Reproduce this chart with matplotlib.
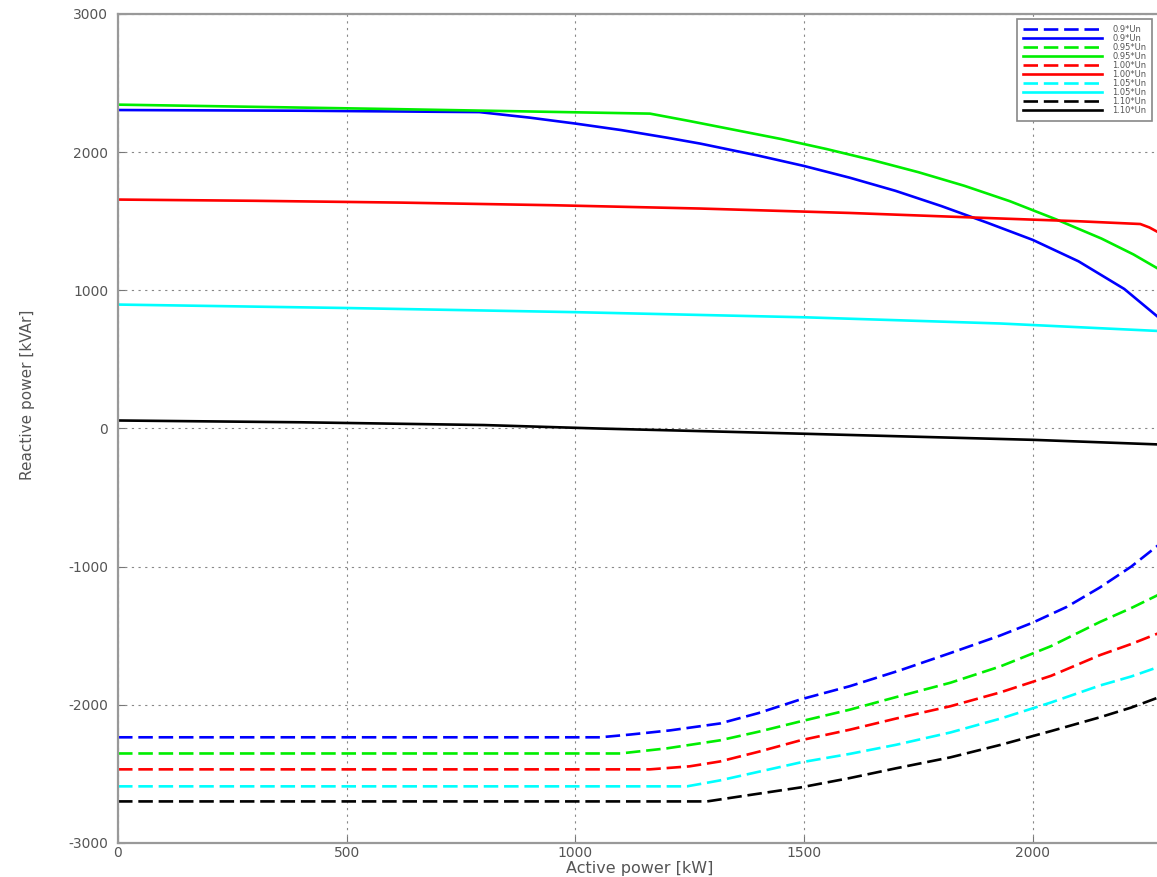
import matplotlib
matplotlib.use("Agg")
import matplotlib.pyplot as plt

# Capability curves: reactive power limit vs. active power at several terminal voltages
p_blue_s = [0, 400, 790, 900, 1000, 1100, 1200, 1273, 1400, 1500, 1600, 1700,
            1800, 1900, 2000, 2100, 2200, 2280]
q_blue_s = [2305, 2300, 2290, 2250, 2207, 2160, 2105, 2062, 1975, 1900, 1815,
            1720, 1610, 1490, 1365, 1210, 1010, 790]

p_green_s = [0, 600, 1163, 1250, 1350, 1450, 1550, 1650, 1750, 1850, 1950,
             2050, 2150, 2220, 2280]
q_green_s = [2344, 2312, 2279, 2225, 2160, 2095, 2022, 1942, 1855, 1757, 1645,
             1515, 1375, 1260, 1145]

p_red_s = [0, 300, 617, 950, 1273, 1600, 1929, 2100, 2235, 2255, 2280]
q_red_s = [1657, 1648, 1635, 1616, 1592, 1560, 1520, 1500, 1480, 1455, 1410]

p_cyan_s = [0, 500, 1000, 1500, 1929, 2280]
q_cyan_s = [897, 872, 842, 805, 760, 705]

p_black_s = [0, 400, 800, 1050, 1500, 2000, 2280]
q_black_s = [58, 45, 25, 0, -38, -82, -116]

p_blue_d = [0, 1054, 1120, 1207, 1316, 1400, 1492, 1600, 1710, 1820, 1929,
            2000, 2075, 2147, 2215, 2280]
q_blue_d = [-2235, -2235, -2215, -2185, -2135, -2060, -1961, -1865, -1750,
            -1625, -1498, -1405, -1290, -1150, -1000, -830]

p_green_d = [0, 1098, 1200, 1316, 1400, 1492, 1600, 1700, 1820, 1929, 2040,
             2147, 2215, 2280]
q_green_d = [-2352, -2352, -2315, -2257, -2195, -2120, -2035, -1945, -1840,
             -1722, -1575, -1400, -1300, -1195]

p_red_d = [0, 1163, 1250, 1316, 1400, 1492, 1600, 1700, 1820, 1929, 2040,
           2147, 2215, 2280]
q_red_d = [-2467, -2467, -2445, -2410, -2340, -2257, -2180, -2100, -2010,
           -1910, -1790, -1640, -1560, -1475]

p_cyan_d = [0, 1244, 1316, 1400, 1492, 1600, 1700, 1820, 1929, 2038, 2147,
            2215, 2280]
q_cyan_d = [-2590, -2590, -2547, -2485, -2417, -2355, -2290, -2200, -2100,
            -1985, -1860, -1795, -1720]

p_black_d = [0, 1288, 1360, 1492, 1600, 1700, 1820, 1929, 2040, 2147, 2215,
             2280]
q_black_d = [-2699, -2699, -2663, -2598, -2530, -2460, -2380, -2290, -2190,
             -2090, -2020, -1940]

labels = ["0.9*Un", "0.9*Un", "0.95*Un", "0.95*Un", "1.00*Un", "1.00*Un",
          "1.05*Un", "1.05*Un", "1.10*Un", "1.10*Un"]
x_ticks = [0, 500, 1000, 1500, 2000]
y_ticks = [-3000, -2000, -1000, 0, 1000, 2000, 3000]

plt.rcParams["font.family"] = ["DejaVu Sans"]
plt.rcParams["axes.unicode_minus"] = False

W, H = 1157, 877
fig = plt.figure(figsize=(W / 100, H / 100), dpi=100)
# axes run past the right edge of the canvas
ax = fig.add_axes([118 / W, (H - 843) / H, (1170 - 118) / W, (843 - 14) / H])

series = [
    (p_blue_d, q_blue_d, "#0000ff", True),
    (p_blue_s, q_blue_s, "#0000ff", False),
    (p_green_d, q_green_d, "#00ee00", True),
    (p_green_s, q_green_s, "#00ee00", False),
    (p_red_d, q_red_d, "#ff0000", True),
    (p_red_s, q_red_s, "#ff0000", False),
    (p_cyan_d, q_cyan_d, "#00ffff", True),
    (p_cyan_s, q_cyan_s, "#00ffff", False),
    (p_black_d, q_black_d, "#000000", True),
    (p_black_s, q_black_s, "#000000", False),
]
handles = []
for (p, q, c, dashed), lab in zip(series, labels):
    if dashed:
        h, = ax.plot(p, q, color=c, lw=1.9, dashes=(5.5, 2.2), label=lab)
    else:
        h, = ax.plot(p, q, color=c, lw=1.9, label=lab)
    handles.append(h)

ax.set_xlim(0, 2300)
ax.set_ylim(-3000, 3000)
ax.set_xticks(x_ticks)
ax.set_yticks(y_ticks)
ax.grid(True, color="#888888", linestyle=(0, (2, 4)), lw=0.8)
ax.tick_params(direction="in", length=5, color="#777777", labelsize=10,
               labelcolor="#555555")
ax.tick_params(axis="y", pad=7)
ax.tick_params(axis="x", pad=2)
for s in ax.spines.values():
    s.set_color("#999999")
    s.set_linewidth(1.6)

fig.text(640 / W, 0.5 / H, "Active power [kW]", fontsize=11.5, color="#555555",
         ha="center", va="bottom")
fig.text(28 / W, (H - 395) / H, "Reactive power [kVAr]", fontsize=11,
         color="#555555", rotation=90, ha="center", va="center")

leg = ax.legend(handles=handles, loc="upper right",
                bbox_to_anchor=(1152 / W, (H - 19) / H),
                bbox_transform=fig.transFigure, fontsize=6,
                handlelength=9.5, handletextpad=1.2, labelspacing=0.0,
                borderpad=0.7, borderaxespad=0, fancybox=False,
                framealpha=1.0)
leg.get_frame().set_edgecolor("#888888")
leg.get_frame().set_linewidth(1.2)
for t in leg.get_texts():
    t.set_color("#555555")

fig.savefig("out.png", dpi=100)
